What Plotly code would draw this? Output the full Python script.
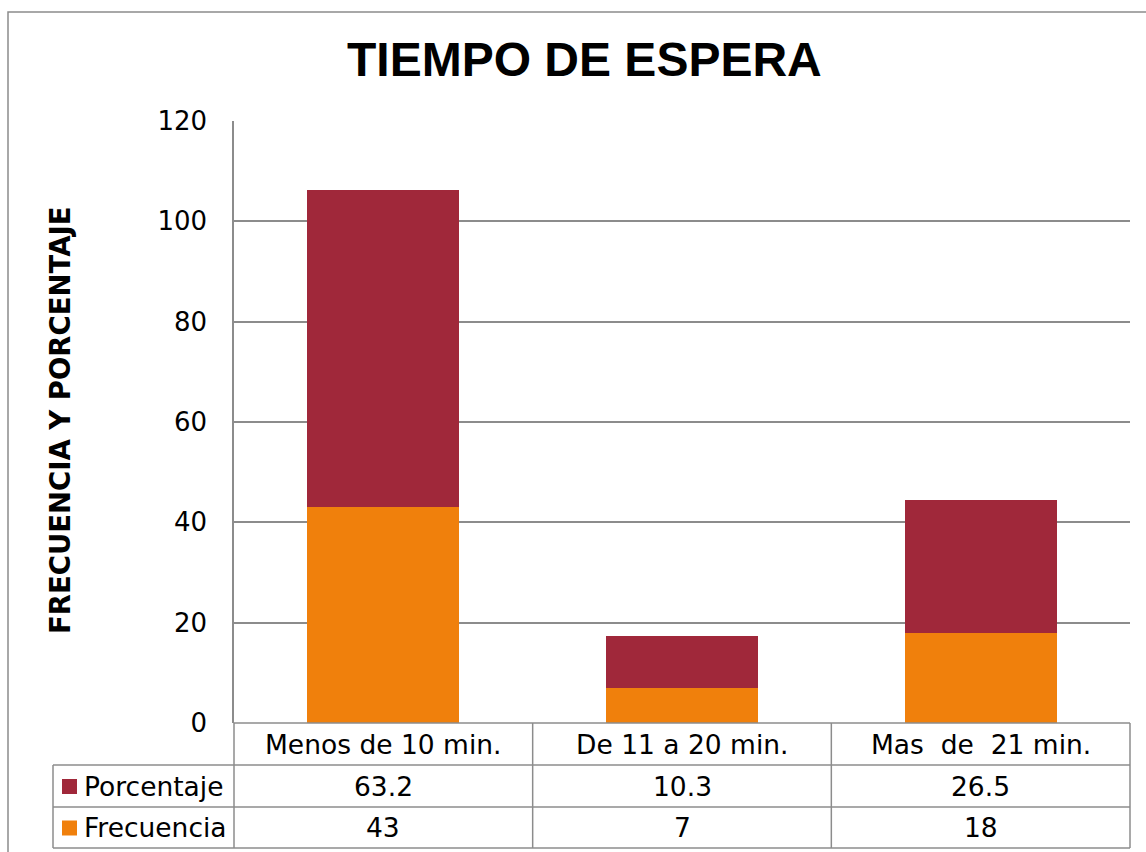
import plotly.graph_objects as go

categories = ["Menos de 10 min.", "De 11 a 20 min.", "Mas  de  21 min."]
frecuencia = [43, 7, 18]
porcentaje = [63.2, 10.3, 26.5]
series_names = ["Porcentaje", "Frecuencia"]
y_ticks = [0, 20, 40, 60, 80, 100, 120]

C_PORC = "#A0283A"
C_FREC = "#F0800C"
GRID = "#8C8C8C"
FONT = "DejaVu Sans"

W, H = 1146, 852
L, R, T, B = 234, 1130, 121, 723


def px(x):
    return (x - L) / (R - L)


def py(y):
    return (B - y) / (B - T)


fig = go.Figure()
fig.add_trace(go.Bar(x=categories, y=frecuencia, name="Frecuencia",
                     marker=dict(color=C_FREC, line=dict(width=0)), width=0.51))
fig.add_trace(go.Bar(x=categories, y=porcentaje, name="Porcentaje",
                     marker=dict(color=C_PORC, line=dict(width=0)), width=0.51))

shapes = []
annotations = []

# outer chart border
shapes.append(dict(type="rect", xref="paper", yref="paper",
                   x0=px(8), x1=px(1160), y0=py(12), y1=py(870),
                   line=dict(color=GRID, width=1.5), layer="below"))

# data table
rows_y = [723, 765, 807, 848]
cols_x = [L, L + (R - L) / 3, L + 2 * (R - L) / 3, R]
legend_left = 53
lc = dict(color=GRID, width=1.5)
shapes.append(dict(type="line", xref="paper", yref="paper", x0=px(L), x1=px(R),
                   y0=py(rows_y[0]), y1=py(rows_y[0]), line=lc))
for yy in rows_y[1:]:
    shapes.append(dict(type="line", xref="paper", yref="paper", x0=px(legend_left), x1=px(R),
                       y0=py(yy), y1=py(yy), line=lc))
shapes.append(dict(type="line", xref="paper", yref="paper", x0=px(legend_left), x1=px(legend_left),
                   y0=py(rows_y[1]), y1=py(rows_y[3]), line=lc))
for xx in cols_x:
    shapes.append(dict(type="line", xref="paper", yref="paper", x0=px(xx), x1=px(xx),
                       y0=py(rows_y[0]), y1=py(rows_y[3]), line=lc))

TS = 26.5
for i, c in enumerate(categories):
    cx = (cols_x[i] + cols_x[i + 1]) / 2
    annotations.append(dict(text=c, xref="paper", yref="paper", x=px(cx),
                            y=py((rows_y[0] + rows_y[1]) / 2), showarrow=False,
                            font=dict(family=FONT, size=TS, color="black"),
                            xanchor="center", yanchor="middle"))

table_rows = [("Porcentaje", porcentaje, C_PORC), ("Frecuencia", frecuencia, C_FREC)]
for r, (name, vals, col) in enumerate(table_rows):
    ymid = (rows_y[r + 1] + rows_y[r + 2]) / 2
    shapes.append(dict(type="rect", xref="paper", yref="paper",
                       x0=px(62), x1=px(77), y0=py(ymid + 8), y1=py(ymid - 7),
                       fillcolor=col, line=dict(width=0)))
    annotations.append(dict(text=name, xref="paper", yref="paper", x=px(82), y=py(ymid),
                            showarrow=False, xanchor="left", yanchor="middle",
                            font=dict(family=FONT, size=TS, color="black")))
    for i, v in enumerate(vals):
        cx = (cols_x[i] + cols_x[i + 1]) / 2
        annotations.append(dict(text=str(v), xref="paper", yref="paper", x=px(cx), y=py(ymid),
                                showarrow=False, xanchor="center", yanchor="middle",
                                font=dict(family=FONT, size=TS, color="black")))

annotations.append(dict(text="<b>TIEMPO DE ESPERA</b>", xref="paper", yref="paper",
                        x=px(584), y=py(60), showarrow=False, xanchor="center", yanchor="middle",
                        font=dict(family="Liberation Sans", size=48, color="black")))
annotations.append(dict(text="<b>FRECUENCIA Y PORCENTAJE</b>", xref="paper", yref="paper",
                        x=px(60), y=py(421), showarrow=False, textangle=-90,
                        xanchor="center", yanchor="middle",
                        font=dict(family=FONT, size=27.5, color="black")))

fig.update_layout(
    width=W, height=H,
    margin=dict(l=L, r=W - R, t=T, b=H - B),
    barmode="stack",
    showlegend=False,
    plot_bgcolor="white", paper_bgcolor="white",
    shapes=shapes, annotations=annotations,
    xaxis=dict(showticklabels=False, showgrid=False, showline=False, zeroline=False,
               ticks=""),
    yaxis=dict(range=[0, 120], tickvals=y_ticks, showgrid=True, gridcolor=GRID, gridwidth=1.5,
               showline=True, linecolor=GRID, linewidth=1.5, zeroline=False, ticks="",
               ticklabelstandoff=20,
               tickfont=dict(family=FONT, size=26, color="black")),
)

fig.write_html("out.html")
